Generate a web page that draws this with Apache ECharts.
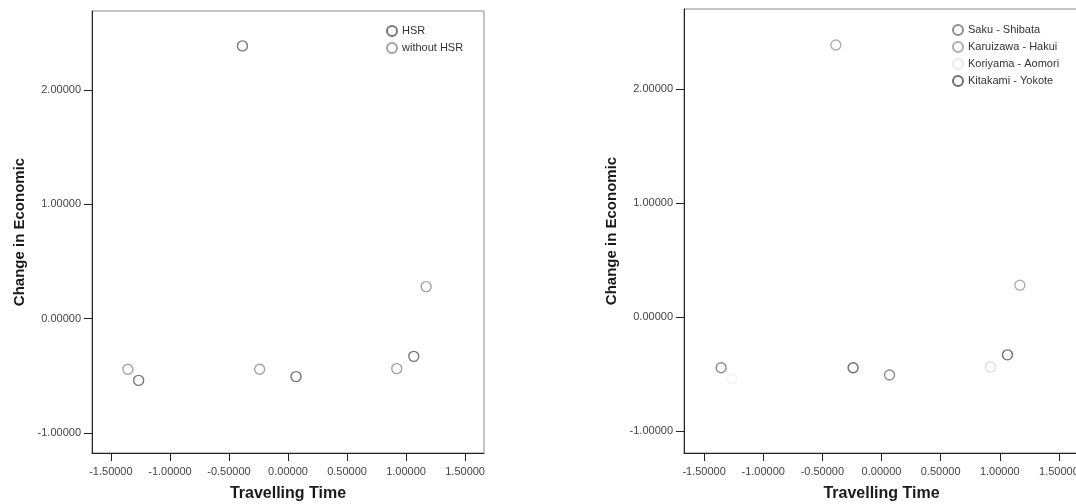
<!DOCTYPE html>
<html>
<head>
<meta charset="utf-8">
<title>Travelling Time vs Change in Economic</title>
<script src="https://cdn.jsdelivr.net/npm/echarts@6/dist/echarts.min.js"></script>
<style>
  html, body { margin: 0; padding: 0; background: #ffffff; }
  #chart { width: 1076px; height: 504px; }
</style>
</head>
<body>
<div id="chart"></div>
<script>
// Standardised travelling time (x) and change in economic indicator (y) per city
const hsrCities = [[-1.265, -0.540], [0.068, -0.507], [1.065, -0.330], [-0.386, 2.385]];
const nonHsrCities = [[-1.356, -0.443], [-0.240, -0.443], [0.921, -0.437], [1.170, 0.280]];

// Same cities grouped into city pairs
const sakuShibata = [[-1.356, -0.443], [0.068, -0.507]];
const karuizawaHakui = [[1.170, 0.280], [-0.386, 2.385]];
const koriyamaAomori = [[-1.265, -0.540], [0.921, -0.437]];
const kitakamiYokote = [[-0.240, -0.443], [1.065, -0.330]];

const xTicks = [-1.5, -1.0, -0.5, 0.0, 0.5, 1.0, 1.5];
const yTicks = [-1, 0, 1, 2];

const font = '"Liberation Sans", Arial, sans-serif';
const fmt = v => v.toFixed(5);

function xAxisFor(gridIndex, min, max) {
  return {
    type: 'value', gridIndex, min, max,
    name: 'Travelling Time', nameLocation: 'middle', nameGap: 33,
    nameTextStyle: { fontFamily: font, fontWeight: 'bold', fontSize: 16, color: '#1a1a1a' },
    axisLine: { show: true, onZero: false, lineStyle: { color: '#222', width: 1 } },
    axisTick: { show: true, length: 8, customValues: xTicks, lineStyle: { color: '#222' } },
    axisLabel: { customValues: xTicks, formatter: fmt, margin: 13, fontFamily: font, fontSize: 11, color: '#444' },
    splitLine: { show: false }
  };
}
function yAxisFor(gridIndex, min, max) {
  return {
    type: 'value', gridIndex, min, max,
    name: 'Change in Economic', nameLocation: 'middle', nameRotate: 90, nameGap: 65,
    nameTextStyle: { fontFamily: font, fontWeight: 'bold', fontSize: 15, color: '#1a1a1a' },
    axisLine: { show: true, onZero: false, lineStyle: { color: '#222', width: 1 } },
    axisTick: { show: true, length: 8, customValues: yTicks, lineStyle: { color: '#222' } },
    axisLabel: { customValues: yTicks, formatter: fmt, margin: 11, fontFamily: font, fontSize: 11, color: '#444' },
    splitLine: { show: false }
  };
}
function scatter(name, data, stroke, xi) {
  return {
    type: 'scatter', name, data, xAxisIndex: xi, yAxisIndex: xi,
    symbol: 'circle', symbolSize: 10,
    itemStyle: { color: 'rgba(255,255,255,0)', borderColor: stroke, borderWidth: 1.4 },
    emphasis: { disabled: true }
  };
}

const chart = echarts.init(document.getElementById('chart'), null, { renderer: 'canvas' });
chart.setOption({
  animation: false,
  backgroundColor: '#ffffff',
  grid: [
    { left: 92, top: 11, width: 392, height: 442, outerBoundsMode: 'none', containLabel: false,
      show: true, borderColor: '#8a8a8a', borderWidth: 1, backgroundColor: '#fff' },
    { left: 684, top: 9, width: 395, height: 444, outerBoundsMode: 'none', containLabel: false,
      show: true, borderColor: '#8a8a8a', borderWidth: 1, backgroundColor: '#fff' }
  ],
  xAxis: [xAxisFor(0, -1.66, 1.66), xAxisFor(1, -1.67, 1.67)],
  yAxis: [yAxisFor(0, -1.175, 2.69), yAxisFor(1, -1.19, 2.70)],
  legend: [
    {
      left: 386, top: 25, orient: 'vertical', padding: 0, itemWidth: 10, itemHeight: 10, itemGap: 5,
      textStyle: { fontFamily: font, fontSize: 11, color: '#333' },
      data: ['HSR', 'without HSR']
    },
    {
      left: 952, top: 24, orient: 'vertical', padding: 0, itemWidth: 10, itemHeight: 10, itemGap: 5,
      textStyle: { fontFamily: font, fontSize: 11, color: '#333' },
      data: ['Saku - Shibata', 'Karuizawa - Hakui', 'Koriyama - Aomori', 'Kitakami - Yokote']
    }
  ],
  series: [
    scatter('HSR', hsrCities, '#555555', 0),
    scatter('without HSR', nonHsrCities, '#8c8c8c', 0),
    scatter('Saku - Shibata', sakuShibata, '#707070', 1),
    scatter('Karuizawa - Hakui', karuizawaHakui, '#999999', 1),
    Object.assign(scatter('Koriyama - Aomori', koriyamaAomori.map((p, i) => ({
      value: p,
      itemStyle: { borderColor: i === 0 ? '#f0f0f0' : '#d6d6d6' }
    })), '#e4e4e4', 1)),
    scatter('Kitakami - Yokote', kitakamiYokote, '#4a4a4a', 1)
  ]
});
</script>
</body>
</html>
